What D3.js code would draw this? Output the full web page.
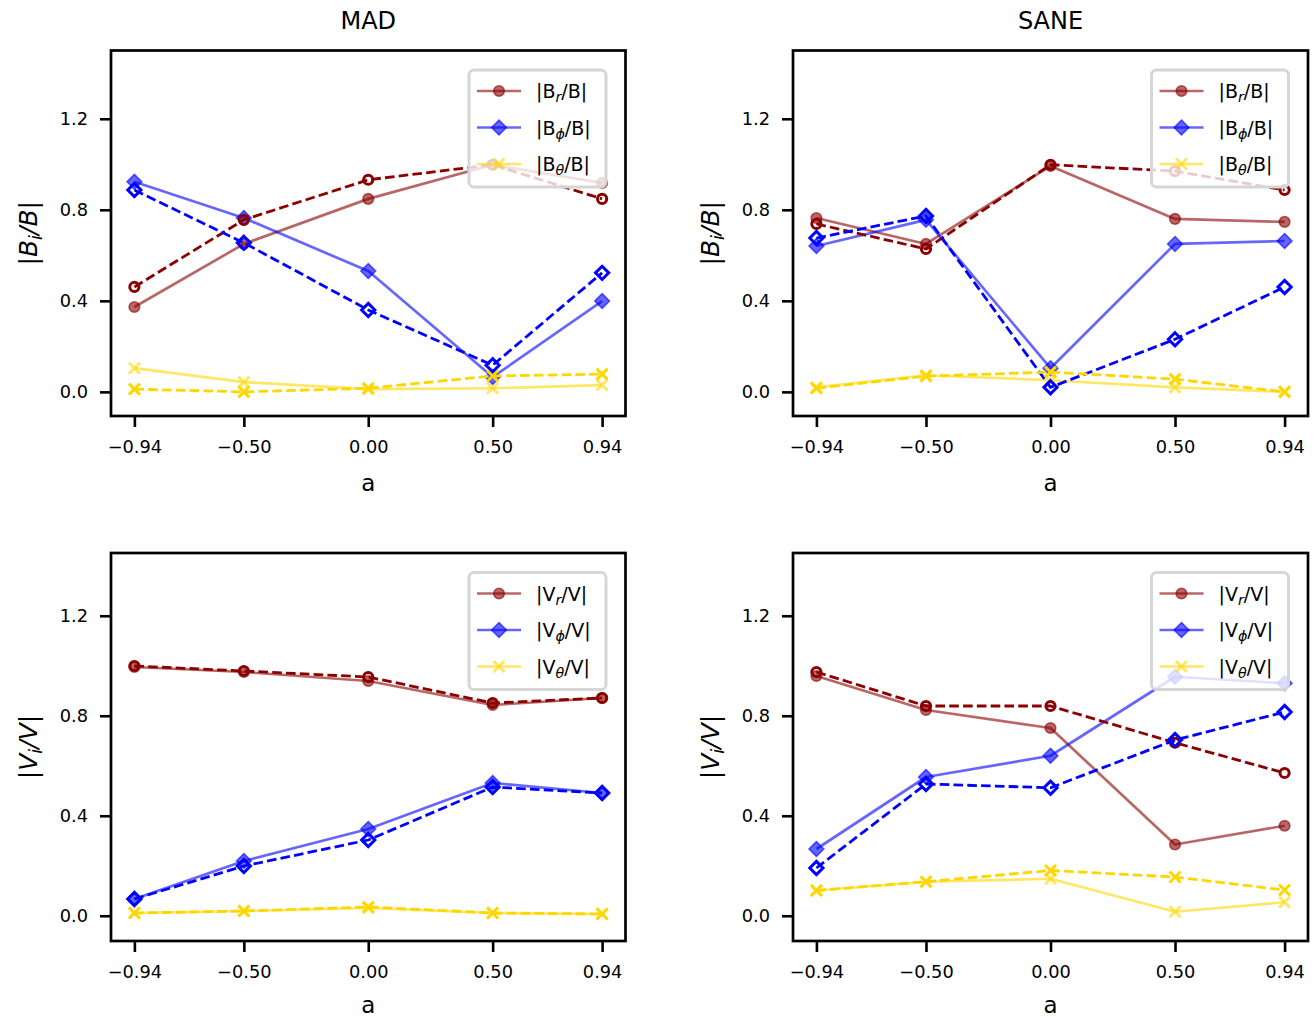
<!DOCTYPE html>
<html>
<head>
<meta charset="utf-8">
<script src="https://cdn.jsdelivr.net/npm/d3@7"></script>
<style>
  body { margin: 0; background: #fff; }
  svg { font-family: "DejaVu Sans", sans-serif; }
</style>
</head>
<body>
<svg id="fig" width="1315" height="1019"></svg>
<script>
// spin values on the x axis
const spins = [-0.94, -0.5, 0, 0.5, 0.94];
const spinLabels = ["\u22120.94", "\u22120.50", "0.00", "0.50", "0.94"];
const yTicks = [0, 0.4, 0.8, 1.2];

// MAD, magnetic field ratios (solid = first run, dashed = second run)
const madBr      = [0.373, 0.650, 0.848, 0.998, 0.918];
const madBrDash  = [0.461, 0.756, 0.932, 0.998, 0.848];
const madBp      = [0.923, 0.764, 0.531, 0.065, 0.399];
const madBpDash  = [0.887, 0.655, 0.360, 0.117, 0.523];
const madBt      = [0.104, 0.043, 0.012, 0.016, 0.030];
const madBtDash  = [0.012, 0.000, 0.016, 0.070, 0.078];

// SANE, magnetic field ratios
const saneBr     = [0.764, 0.650, 0.993, 0.760, 0.747];
const saneBrDash = [0.738, 0.628, 0.998, 0.970, 0.887];
const saneBp     = [0.641, 0.756, 0.104, 0.650, 0.663];
const saneBpDash = [0.676, 0.773, 0.020, 0.231, 0.461];
const saneBt     = [0.020, 0.073, 0.051, 0.020, 0.000];
const saneBtDash = [0.016, 0.069, 0.087, 0.056, 0.000];

// MAD, velocity ratios
const madVr      = [0.995, 0.975, 0.939, 0.843, 0.871];
const madVrDash  = [0.999, 0.979, 0.955, 0.851, 0.871];
const madVp      = [0.067, 0.219, 0.347, 0.531, 0.491];
const madVpDash  = [0.067, 0.199, 0.303, 0.515, 0.491];
const madVt      = [0.011, 0.019, 0.031, 0.011, 0.007];
const madVtDash  = [0.011, 0.019, 0.035, 0.011, 0.007];

// SANE, velocity ratios
const saneVr     = [0.959, 0.823, 0.751, 0.285, 0.360];
const saneVrDash = [0.975, 0.839, 0.839, 0.692, 0.571];
const saneVp     = [0.267, 0.555, 0.640, 0.956, 0.930];
const saneVpDash = [0.191, 0.527, 0.512, 0.703, 0.815];
const saneVt     = [0.101, 0.136, 0.148, 0.016, 0.054];
const saneVtDash = [0.101, 0.136, 0.181, 0.155, 0.103];

const colors = { r: "#8b0000", p: "#0000ff", t: "#ffd700" };
const markers = { r: "circle", p: "diamond", t: "x" };

const panels = [
  { x0: 111, x1: 625.5, y0: 50.5, y1: 416, ylim: [-0.106, 1.5], title: "MAD", q: "B", labOff: 75,
    sets: { r: [madBr, madBrDash], p: [madBp, madBpDash], t: [madBt, madBtDash] } },
  { x0: 793, x1: 1308, y0: 50.5, y1: 416, ylim: [-0.106, 1.5], title: "SANE", q: "B", labOff: 75,
    sets: { r: [saneBr, saneBrDash], p: [saneBp, saneBpDash], t: [saneBt, saneBtDash] } },
  { x0: 111, x1: 625.5, y0: 553, y1: 941, ylim: [-0.101, 1.451], q: "V", labOff: 72,
    sets: { r: [madVr, madVrDash], p: [madVp, madVpDash], t: [madVt, madVtDash] } },
  { x0: 793, x1: 1308, y0: 553, y1: 941, ylim: [-0.101, 1.451], q: "V", labOff: 72,
    sets: { r: [saneVr, saneVrDash], p: [saneVp, saneVpDash], t: [saneVt, saneVtDash] } }
];

const svg = d3.select("#fig");

function drawMarker(g, type, cx, cy, color, open, alpha) {
  if (type === "circle") {
    g.append("circle").attr("cx", cx).attr("cy", cy)
      .attr("r", open ? 4.6 : 5.3)
      .attr("fill", open ? "none" : color)
      .attr("fill-opacity", alpha)
      .attr("stroke", color).attr("stroke-opacity", alpha)
      .attr("stroke-width", open ? 3 : 1.6);
  } else if (type === "diamond") {
    const h = open ? 6.6 : 7.4;
    g.append("path")
      .attr("d", `M${cx},${cy - h}L${cx + h},${cy}L${cx},${cy + h}L${cx - h},${cy}Z`)
      .attr("fill", open ? "none" : color)
      .attr("fill-opacity", alpha)
      .attr("stroke", color).attr("stroke-opacity", alpha)
      .attr("stroke-width", open ? 3 : 1.6);
  } else {
    const h = 5.5;
    g.append("path")
      .attr("d", `M${cx - h},${cy - h}L${cx + h},${cy + h}M${cx - h},${cy + h}L${cx + h},${cy - h}`)
      .attr("stroke", color).attr("stroke-opacity", alpha)
      .attr("stroke-width", 3).attr("fill", "none");
  }
}

function subLabel(sel, base, sub, tail) {
  sel.append("tspan").text("|" + base);
  sel.append("tspan").attr("font-style", "italic").attr("font-size", "0.75em")
    .attr("dy", 4).text(sub);
  sel.append("tspan").attr("dy", -4).text("/" + tail + "|");
}

panels.forEach((p) => {
  const x = d3.scaleLinear().domain([-1.034, 1.034]).range([p.x0, p.x1]);
  const y = d3.scaleLinear().domain(p.ylim).range([p.y1, p.y0]);
  const g = svg.append("g");

  const line = d3.line().x((d, i) => x(spins[i])).y((d) => y(d));

  const plot = g.append("g");
  // solid lines (faded) first, then dashed
  ["r", "p", "t"].forEach((k) => {
    const vals = p.sets[k][0];
    plot.append("path").datum(vals).attr("d", line)
      .attr("fill", "none").attr("stroke", colors[k]).attr("stroke-opacity", 0.6)
      .attr("stroke-width", 2.7).attr("stroke-linejoin", "round");
    vals.forEach((v, i) => drawMarker(plot, markers[k], x(spins[i]), y(v), colors[k], false, 0.6));
  });
  ["r", "p", "t"].forEach((k) => {
    const vals = p.sets[k][1];
    plot.append("path").datum(vals).attr("d", line)
      .attr("fill", "none").attr("stroke", colors[k])
      .attr("stroke-width", 2.8).attr("stroke-dasharray", "9.6,4.2");
    vals.forEach((v, i) => drawMarker(plot, markers[k], x(spins[i]), y(v), colors[k], true, 1));
  });

  // axes
  const xAxis = d3.axisBottom(x).tickValues(spins)
    .tickFormat((d, i) => spinLabels[i]).tickSize(11).tickPadding(13);
  const yAxis = d3.axisLeft(y).tickValues(yTicks)
    .tickFormat(d3.format(".1f")).tickSize(11).tickPadding(12);

  const gx = g.append("g").attr("transform", `translate(0,${p.y1})`).call(xAxis);
  const gy = g.append("g").attr("transform", `translate(${p.x0},0)`).call(yAxis);
  [gx, gy].forEach((ax) => {
    ax.select(".domain").remove();
    ax.selectAll(".tick line").attr("stroke", "#000").attr("stroke-width", 2.6);
    ax.selectAll(".tick text").attr("font-size", 17.8).attr("fill", "#000")
      .attr("font-family", "DejaVu Sans");
  });

  g.append("rect").attr("x", p.x0).attr("y", p.y0)
    .attr("width", p.x1 - p.x0).attr("height", p.y1 - p.y0)
    .attr("fill", "none").attr("stroke", "#000").attr("stroke-width", 2.7);

  // x label
  g.append("text").attr("x", (p.x0 + p.x1) / 2).attr("y", p.y1 + p.labOff)
    .attr("text-anchor", "middle").attr("font-size", 23).text("a");

  if (p.title) {
    g.append("text").attr("x", (p.x0 + p.x1) / 2).attr("y", 29)
      .attr("text-anchor", "middle").attr("font-size", 24).text(p.title);
  }

  // y label
  const yl = g.append("text")
    .attr("transform", `translate(${p.x0 - 74},${(p.y0 + p.y1) / 2}) rotate(-90)`)
    .attr("text-anchor", "middle").attr("font-size", 25).attr("font-style", "italic");
  yl.append("tspan").text("|" + p.q);
  yl.append("tspan").attr("font-size", "0.7em").attr("dy", 5).text("i");
  yl.append("tspan").attr("dy", -5).text("/" + p.q + "|");

  // legend
  const lw = 137, lh = 117;
  const lx = p.x1 - 19.5 - lw, ly = p.y0 + 19.5;
  const lg = g.append("g");
  lg.append("rect").attr("x", lx).attr("y", ly).attr("width", lw).attr("height", lh)
    .attr("rx", 5).attr("fill", "#fff").attr("fill-opacity", 0.8)
    .attr("stroke", "#d6d6d6").attr("stroke-width", 3);
  const subs = { r: "r", p: "\u03d5", t: "\u03b8" };
  ["r", "p", "t"].forEach((k, i) => {
    const cy = ly + 21 + i * 36.5;
    lg.append("line").attr("x1", lx + 8).attr("x2", lx + 52).attr("y1", cy).attr("y2", cy)
      .attr("stroke", colors[k]).attr("stroke-opacity", 0.6).attr("stroke-width", 2.7);
    drawMarker(lg, markers[k], lx + 30, cy, colors[k], false, 0.6);
    const t = lg.append("text").attr("x", lx + 67).attr("y", cy + 7).attr("font-size", 19);
    subLabel(t, p.q, subs[k], p.q);
  });
});
</script>
</body>
</html>
